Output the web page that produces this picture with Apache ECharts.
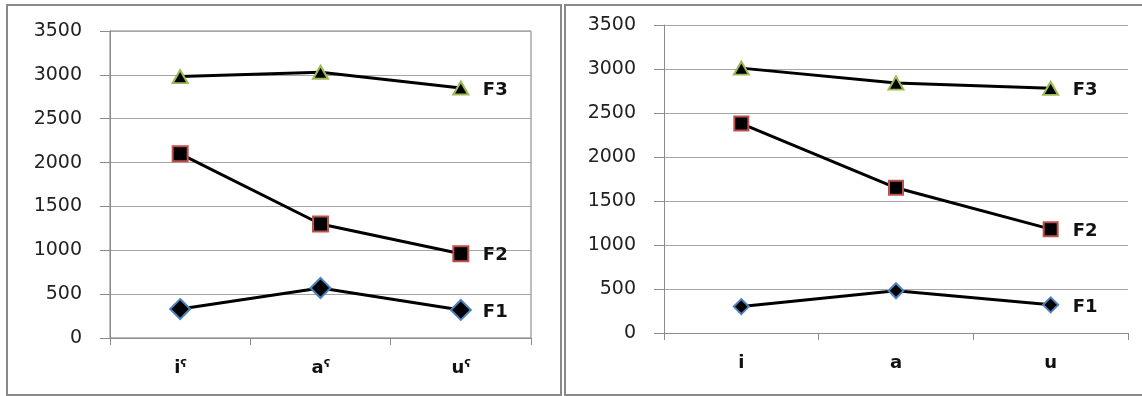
<!DOCTYPE html>
<html>
<head>
<meta charset="utf-8">
<script src="https://cdn.jsdelivr.net/npm/echarts@6/dist/echarts.min.js"></script>
<style>html,body{margin:0;padding:0;background:#fff;}#c{width:1142px;height:396px;}</style>
</head>
<body>
<div id="c"></div>
<script>
const catsLeft = ['i\u02E4', 'a\u02E4', 'u\u02E4'];
const catsRight = ['i', 'a', 'u'];
const seriesNames = ['F1', 'F2', 'F3'];
const leftF1 = [330, 570, 320];
const leftF2 = [2100, 1300, 960];
const leftF3 = [2980, 3030, 2850];
const rightF1 = [300, 480, 320];
const rightF2 = [2380, 1650, 1180];
const rightF3 = [3010, 2840, 2780];
const yTicks = [0, 500, 1000, 1500, 2000, 2500, 3000, 3500];

const chart = echarts.init(document.getElementById('c'));
const FONT = 'DejaVu Sans';

function mk(name, data, gi, symbol, size, border) {
  return {
    name: name, type: 'line', xAxisIndex: gi, yAxisIndex: gi, data: data,
    symbol: symbol, symbolSize: size, showAllSymbol: true,
    lineStyle: { color: '#000', width: 3 },
    itemStyle: { color: '#000', borderColor: border, borderWidth: 2 },
    endLabel: { show: true, formatter: name, distance: 22, color: '#111',
      fontFamily: FONT, fontWeight: 'bold', fontSize: 18, offset: [0, 2] },
    emphasis: { disabled: true }, animation: false, z: 5
  };
}

function xAx(gi, cats) {
  return {
    type: 'category', gridIndex: gi, data: cats, boundaryGap: true,
    axisLine: { lineStyle: { color: '#8c8c8c', width: 1 } },
    axisTick: { show: true, length: 7, inside: false, lineStyle: { color: '#8c8c8c' } },
    axisLabel: { color: '#111', fontFamily: FONT, fontWeight: 'bold', fontSize: 18, margin: 21 },
    splitLine: { show: false }
  };
}
function yAx(gi) {
  return {
    type: 'value', gridIndex: gi, min: yTicks[0], max: yTicks[yTicks.length - 1], interval: 500,
    axisLine: { show: true, lineStyle: { color: '#8c8c8c', width: 1 } },
    axisTick: { show: true, length: 10, inside: false, lineStyle: { color: '#8c8c8c' } },
    axisLabel: { color: '#222', fontFamily: FONT, fontSize: 19, margin: 28, formatter: v => String(v) },
    splitLine: { show: true, lineStyle: { color: '#a6a6a6', width: 1 } }
  };
}

chart.setOption({
  backgroundColor: '#fff',
  animation: false,
  graphic: [
    { type: 'rect', shape: { x: 7, y: 5, width: 554, height: 390 }, style: { fill: 'none', stroke: '#8a8a8a', lineWidth: 2 }, z: 0 },
    { type: 'rect', shape: { x: 565, y: 5, width: 590, height: 390 }, style: { fill: 'none', stroke: '#8a8a8a', lineWidth: 2 }, z: 0 }
  ],
  grid: [
    { left: 110, top: 31, right: 611, bottom: 58, show: true, borderColor: '#7a7a7a', borderWidth: 1, backgroundColor: 'transparent' },
    { left: 664, top: 25, right: 14, bottom: 63 }
  ],
  xAxis: [xAx(0, catsLeft), xAx(1, catsRight)],
  yAxis: [yAx(0), yAx(1)],
  series: [
    mk(seriesNames[0], leftF1, 0, 'diamond', [20, 20], '#4f81bd'),
    mk(seriesNames[1], leftF2, 0, 'rect', [15, 15], '#c0504d'),
    mk(seriesNames[2], leftF3, 0, 'triangle', [15, 13], '#9bbb59'),
    mk(seriesNames[0], rightF1, 1, 'diamond', [15, 15], '#4f81bd'),
    mk(seriesNames[1], rightF2, 1, 'rect', [14, 14], '#c0504d'),
    mk(seriesNames[2], rightF3, 1, 'triangle', [15, 13], '#9bbb59')
  ]
});
</script>
</body>
</html>
